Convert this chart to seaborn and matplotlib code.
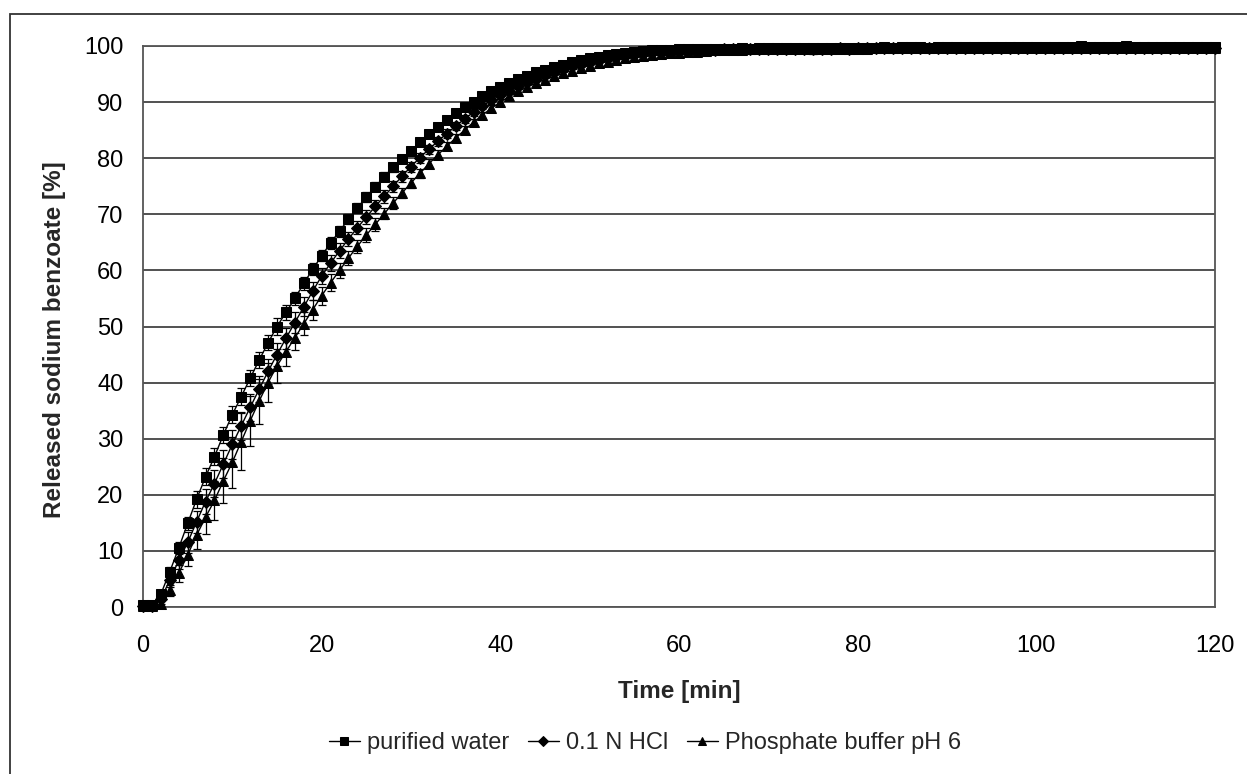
import numpy as np
import pandas as pd
import seaborn as sns
import matplotlib
matplotlib.use("Agg")
import matplotlib.pyplot as plt
from matplotlib.patches import Rectangle

# Sampling times (min)
time_min = list(range(0, 121))

# Mean release (%) per medium
purified_water = [
    0.3, 0.3, 2.3, 6.3, 10.5, 14.9, 19.2, 23.2, 26.8, 30.7, 34.3,
    37.5, 40.8, 44.0, 47.1, 50.0, 52.5, 55.0, 57.7, 60.2, 62.6,
    64.9, 67.0, 69.1, 71.1, 73.1, 74.9, 76.7, 78.4, 79.9, 81.3,
    82.9, 84.3, 85.6, 86.8, 88.0, 89.1, 90.1, 91.0, 91.9, 92.7,
    93.4, 94.1, 94.7, 95.3, 95.8, 96.3, 96.7, 97.1, 97.5, 97.8,
    98.1, 98.4, 98.6, 98.8, 99.0, 99.1, 99.2, 99.3, 99.3, 99.4,
    99.4, 99.4, 99.5, 99.5, 99.5, 99.5, 99.6, 99.5, 99.6, 99.6,
    99.6, 99.6, 99.6, 99.7, 99.7, 99.6, 99.7, 99.7, 99.7, 99.7,
    99.7, 99.7, 99.8, 99.7, 99.8, 99.8, 99.8, 99.7, 99.8, 99.8,
    99.8, 99.9, 99.8, 99.8, 99.8, 99.8, 99.9, 99.8, 99.8, 99.9,
    99.9, 99.8, 99.9, 99.9, 100.0, 99.9, 99.9, 99.9, 99.9, 100.0,
    99.9, 99.9, 99.9, 99.8, 99.9, 99.9, 99.9, 99.9, 99.9, 99.9,
]
hcl_01n = [
    0.2, 0.2, 1.4, 4.8, 8.3, 11.5, 15.2, 18.8, 22.0, 25.5, 29.0,
    32.3, 35.6, 38.8, 42.0, 45.0, 47.9, 50.7, 53.5, 56.3, 59.0,
    61.3, 63.5, 65.6, 67.6, 69.5, 71.4, 73.2, 75.0, 76.8, 78.5,
    80.1, 81.6, 83.0, 84.4, 85.7, 87.0, 88.2, 89.3, 90.3, 91.2,
    92.0, 92.8, 93.5, 94.2, 94.8, 95.4, 95.9, 96.4, 96.8, 97.2,
    97.5, 97.8, 98.1, 98.3, 98.5, 98.7, 98.9, 99.0, 99.1, 99.2,
    99.2, 99.3, 99.3, 99.3, 99.4, 99.4, 99.4, 99.4, 99.5, 99.4,
    99.5, 99.5, 99.5, 99.5, 99.5, 99.5, 99.5, 99.6, 99.5, 99.6,
    99.6, 99.6, 99.6, 99.6, 99.6, 99.6, 99.6, 99.6, 99.6, 99.6,
    99.6, 99.7, 99.6, 99.6, 99.7, 99.6, 99.7, 99.7, 99.7, 99.7,
    99.7, 99.7, 99.7, 99.7, 99.7, 99.7, 99.7, 99.7, 99.7, 99.7,
    99.7, 99.7, 99.7, 99.7, 99.7, 99.7, 99.7, 99.7, 99.7, 99.7,
]
phosphate_ph6 = [
    0.2, 0.2, 0.6, 3.0, 6.0, 9.3, 12.8, 16.0, 19.0, 22.5, 25.8,
    29.5, 33.2, 36.7, 40.0, 43.0, 45.5, 48.0, 50.5, 53.0, 55.5,
    57.8, 60.0, 62.2, 64.3, 66.3, 68.2, 70.1, 72.0, 73.8, 75.6,
    77.3, 79.0, 80.6, 82.1, 83.6, 85.0, 86.4, 87.7, 88.9, 90.0,
    91.0, 91.9, 92.7, 93.4, 94.0, 94.6, 95.1, 95.6, 96.1, 96.5,
    96.9, 97.2, 97.5, 97.8, 98.0, 98.2, 98.4, 98.5, 98.7, 98.8,
    98.9, 99.0, 99.1, 99.2, 99.3, 99.3, 99.3, 99.4, 99.4, 99.4,
    99.4, 99.5, 99.5, 99.5, 99.5, 99.5, 99.5, 99.5, 99.5, 99.5,
    99.5, 99.6, 99.6, 99.6, 99.6, 99.6, 99.6, 99.6, 99.6, 99.6,
    99.6, 99.6, 99.6, 99.6, 99.6, 99.6, 99.7, 99.6, 99.6, 99.7,
    99.7, 99.6, 99.7, 99.7, 99.7, 99.7, 99.7, 99.7, 99.7, 99.7,
    99.7, 99.7, 99.7, 99.7, 99.7, 99.7, 99.7, 99.7, 99.7, 99.7,
]

# Standard deviations (%)
purified_water_sd = [
    0.8, 0.3, 0.6, 0.8, 1.0, 1.2, 1.5, 1.5, 1.5, 1.4, 1.5,
    1.5, 1.4, 1.4, 1.3, 1.5, 1.3, 1.2, 1.2, 1.1, 1.0,
    1.0, 1.0, 0.9, 0.9, 0.9, 0.8, 0.8, 0.8, 0.7, 0.7,
    0.7, 0.6, 0.6, 0.6, 0.6, 0.5, 0.5, 0.5, 0.5, 0.5,
    0.4, 0.4, 0.4, 0.4, 0.4, 0.4, 0.4, 0.4, 0.4, 0.4,
    0.4, 0.4, 0.4, 0.4, 0.4, 0.4, 0.4, 0.4, 0.4, 0.4,
    0.3, 0.3, 0.3, 0.3, 0.3, 0.3, 0.3, 0.3, 0.3, 0.3,
    0.3, 0.3, 0.3, 0.3, 1.2, 0.3, 0.3, 0.3, 0.3, 0.6,
    0.3, 0.3, 0.3, 0.3, 0.3, 0.3, 0.3, 0.3, 0.3, 0.3,
    0.3, 0.5, 0.3, 0.3, 0.3, 0.3, 0.3, 0.3, 0.3, 0.3,
    0.3, 0.3, 0.3, 0.3, 0.3, 0.3, 0.3, 0.3, 0.3, 0.3,
    0.3, 0.3, 0.3, 0.3, 0.3, 0.3, 0.3, 0.3, 0.3, 0.3,
]
hcl_01n_sd = [
    0.3, 0.3, 0.8, 1.2, 1.5, 1.8, 2.0, 2.2, 2.4, 2.5, 2.6,
    2.5, 2.4, 2.3, 2.2, 2.0, 1.9, 1.8, 1.7, 1.6, 1.5,
    1.4, 1.3, 1.3, 1.2, 1.2, 1.1, 1.1, 1.0, 1.0, 0.9,
    0.9, 0.8, 0.8, 0.8, 0.7, 0.7, 0.7, 0.6, 0.6, 0.6,
    0.5, 0.5, 0.5, 0.5, 0.5, 0.5, 0.5, 0.5, 0.5, 0.5,
    0.5, 0.5, 0.5, 0.5, 0.5, 0.5, 0.5, 0.5, 0.5, 0.5,
    0.3, 0.3, 0.3, 0.3, 0.3, 0.3, 0.3, 0.3, 0.3, 0.3,
    0.3, 0.3, 0.3, 0.3, 0.3, 0.3, 0.3, 0.3, 0.3, 0.3,
    0.3, 0.3, 0.3, 0.3, 0.3, 0.3, 0.3, 0.3, 0.3, 0.3,
    0.3, 0.3, 0.3, 0.3, 0.3, 0.3, 0.3, 0.3, 0.3, 0.3,
    0.3, 0.3, 0.3, 0.3, 0.3, 0.3, 0.3, 0.3, 0.3, 0.3,
    0.3, 0.3, 0.3, 0.3, 0.3, 0.3, 0.3, 0.3, 0.3, 0.3,
]
phosphate_ph6_sd = [
    0.3, 0.3, 0.5, 1.0, 1.5, 2.0, 2.5, 3.0, 3.5, 4.0, 4.5,
    5.0, 4.5, 4.0, 3.5, 3.0, 2.5, 2.2, 2.0, 1.8, 1.6,
    1.5, 1.4, 1.3, 1.2, 1.2, 1.1, 1.0, 1.0, 0.9, 0.9,
    0.8, 0.8, 0.8, 0.7, 0.7, 0.7, 0.6, 0.6, 0.6, 0.6,
    0.5, 0.5, 0.5, 0.5, 0.5, 0.5, 0.5, 0.5, 0.5, 0.5,
    0.5, 0.5, 0.5, 0.5, 0.5, 0.5, 0.5, 0.5, 0.5, 0.5,
    0.3, 0.3, 0.3, 0.3, 0.3, 0.3, 0.3, 0.3, 0.3, 0.3,
    0.3, 0.3, 0.3, 0.3, 0.3, 0.3, 0.3, 0.3, 0.3, 0.3,
    0.3, 0.3, 0.3, 0.3, 0.3, 0.3, 0.3, 0.3, 0.3, 0.3,
    0.3, 0.3, 0.3, 0.3, 0.3, 0.3, 0.3, 0.3, 0.3, 0.3,
    0.3, 0.3, 0.3, 0.3, 0.3, 0.3, 0.3, 0.3, 0.3, 0.3,
    0.3, 0.3, 0.3, 0.3, 0.3, 0.3, 0.3, 0.3, 0.3, 0.3,
]

series_names = ["purified water", "0.1 N HCl", "Phosphate buffer pH 6"]
x_ticks = [0, 20, 40, 60, 80, 100, 120]
y_ticks = [0, 10, 20, 30, 40, 50, 60, 70, 80, 90, 100]

sns.set_style("white")
plt.rcParams["font.family"] = ["Liberation Sans", "DejaVu Sans"]

W, H = 1247, 774
fig = plt.figure(figsize=(W / 100, H / 100), dpi=100)
fig.patch.set_facecolor("white")
ax = fig.add_axes([143 / W, 1 - 607 / H, (1215 - 143) / W, (607 - 46) / H])

# Chart-area frame (left and top edges visible)
fig.add_artist(Rectangle((10 / W, -0.1), 1.2, 1 - 14 / H + 0.1,
                         transform=fig.transFigure, fill=False,
                         edgecolor="#333333", linewidth=1.3, clip_on=False))

series = [
    (series_names[0], purified_water, purified_water_sd, "s", 7.0),
    (series_names[1], hcl_01n, hcl_01n_sd, "D", 6.5),
    (series_names[2], phosphate_ph6, phosphate_ph6_sd, "^", 7.5),
]

for name, vals, sd, mk, ms in series:
    ax.errorbar(time_min, vals, yerr=sd, fmt="none", ecolor="black",
                elinewidth=0.9, capsize=3, capthick=0.9, zorder=2)

for name, vals, sd, mk, ms in series:
    df = pd.DataFrame({"time": time_min, "value": vals})
    sns.lineplot(data=df, x="time", y="value", ax=ax, color="black",
                 linewidth=1.0, marker=mk, markersize=ms,
                 markeredgecolor="black", markerfacecolor="black",
                 label=name, zorder=3, clip_on=False)

ax.set_xlim(0, 120)
ax.set_ylim(0, 100)
ax.set_xticks(x_ticks)
ax.set_yticks(y_ticks)
ax.tick_params(axis="x", direction="in", length=5, width=1, color="#333333",
               labelsize=17, pad=20, labelcolor="black")
ax.tick_params(axis="y", length=0, labelsize=17, pad=14, labelcolor="black")
ax.yaxis.grid(True, color="#222222", linewidth=1.1)
ax.xaxis.grid(False)
ax.set_axisbelow(True)
for sp in ax.spines.values():
    sp.set_visible(True)
    sp.set_color("#555555")
    sp.set_linewidth(1.3)

ax.set_xlabel("Time [min]", fontsize=17.5, fontweight="bold")
ax.set_ylabel("Released sodium benzoate [%]", fontsize=17.5, fontweight="bold")
ax.xaxis.set_label_coords(0.5, (607 - 680) / 561)
ax.yaxis.set_label_coords((66 - 143) / 1072, (607 - 340) / 561)

h, l = ax.get_legend_handles_labels()
ax.legend(h, l, loc="center", bbox_to_anchor=(645 / W, 1 - 743 / H),
          bbox_transform=fig.transFigure, ncol=3, frameon=False,
          fontsize=17, handlelength=1.3, handletextpad=0.3,
          columnspacing=0.8, markerscale=0.8)

fig.savefig("out.png", dpi=100, facecolor="white")
